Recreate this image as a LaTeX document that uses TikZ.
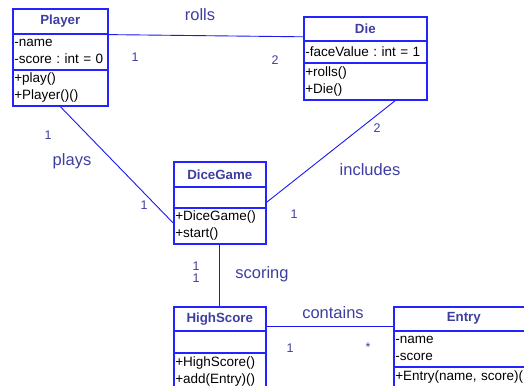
\documentclass[tikz,border=0pt]{standalone}
\usepackage{fontspec}
\setmainfont{Liberation Sans}
\usetikzlibrary{positioning}

\definecolor{umlline}{RGB}{25,25,240}
\definecolor{umlbox}{RGB}{35,35,255}
\definecolor{umltext}{RGB}{62,62,162}

\frenchspacing
\begin{document}
\begin{tikzpicture}[
    x=1pt, y=-1pt,
    classname/.style={draw=umlbox, line width=1.6pt, anchor=north west, inner sep=0pt, minimum width=#1, font=\fontsize{13.3}{16}\selectfont\bfseries, text=umltext},
    compart/.style={draw=umlbox, line width=1.6pt, anchor=north west, inner xsep=1.5pt, inner ysep=0pt, text width=#1, align=left, font=\fontsize{13.5}{17}\selectfont},
    assoc/.style={draw=umlline, line width=0.9pt},
    rolename/.style={text=umltext, inner sep=0pt, font=\fontsize{16.5}{18}\selectfont},
    mult/.style={text=umltext, inner sep=0pt, font=\fontsize{12.5}{14}\selectfont}
]
\clip (0,0) rectangle (524,385);
\useasboundingbox (0,0) rectangle (524,385);

% Player class
\node[classname=95pt, minimum height=25pt] (player-head) at (12,8) {Player};
\node[compart=92pt, minimum height=36pt] (player-attr) at (12,33) {-name\\-score : int = 0};
\node[compart=92pt, minimum height=36pt] (player-ops) at (12,69) {+play()\\+Player()()};

% Die class
\node[classname=123pt, minimum height=24pt] (die-head) at (303,16) {Die};
\node[compart=120pt, minimum height=22pt] (die-attr) at (303,40) {-faceValue : int = 1};
\node[compart=120pt, minimum height=37pt] (die-ops) at (303,62) {+rolls()\\+Die()};

% DiceGame class
\node[classname=92pt, minimum height=25pt] (game-head) at (173,161) {DiceGame};
\node[compart=89pt, minimum height=21pt] (game-attr) at (173,186) {};
\node[compart=89pt, minimum height=36pt] (game-ops) at (173,207) {+DiceGame()\\+start()};

% HighScore class
\node[classname=92pt, minimum height=24pt] (score-head) at (173,306) {HighScore};
\node[compart=89pt, minimum height=22pt] (score-attr) at (173,330) {};
\node[compart=89pt, minimum height=37pt] (score-ops) at (173,352) {+HighScore()\\+add(Entry)()};

% Entry class (runs off the right edge)
\node[classname=140pt, minimum height=24pt] (entry-head) at (393,306) {Entry};
\node[compart=137pt, minimum height=36pt] (entry-attr) at (393,330) {-name\\-score};
\node[compart=137pt, minimum height=20pt] (entry-ops) at (393,366) {+Entry(name, score)(};

% Associations
\draw[assoc] (player-head.south east) -- ([yshift=-8pt]die-head.west);
\draw[assoc] (player-ops.south) -- ([yshift=3pt]game-ops.west);
\draw[assoc] ([xshift=30pt]die-ops.south) -- ([yshift=-5pt]game-attr.east);
\draw[assoc] (game-ops.south) -- (score-head.north);
\draw[assoc] ([yshift=-8pt]score-head.east) -- ([yshift=-8pt]entry-head.west);

% Role names
\node[rolename] (rolls) at (200,15) {rolls};
\node[rolename] (plays) at (72,161) {plays};
\node[rolename] (includes) at (370,170) {includes};
\node[rolename] (scoring) at (262,274) {scoring};
\node[rolename] (contains) at (333,313) {contains};

% Multiplicities
\node[mult] (m-rolls-a) at (135,57) {1};
\node[mult] (m-rolls-b) at (275,60) {2};
\node[mult] (m-plays-a) at (48,135) {1};
\node[mult] (m-plays-b) at (144,205) {1};
\node[mult] (m-incl-a) at (377,128) {2};
\node[mult] (m-incl-b) at (294,214) {1};
\node[mult] (m-score-a) at (196,266.5) {1};
\node[mult] (m-score-b) at (196,278.5) {1};
\node[mult] (m-cont-a) at (290,348) {1};
\node[mult] (m-cont-b) at (368,347) {*};

\end{tikzpicture}
\end{document}
